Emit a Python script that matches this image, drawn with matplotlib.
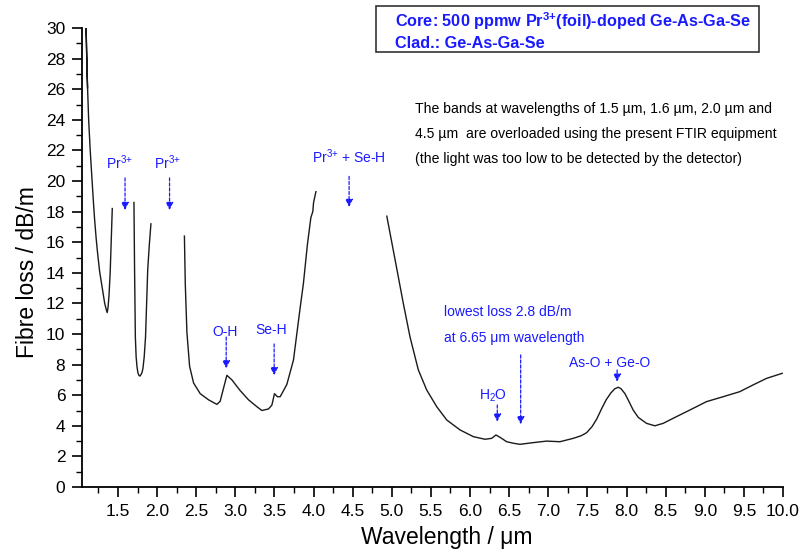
import matplotlib
matplotlib.use("Agg")
import matplotlib.pyplot as plt
from matplotlib.ticker import MultipleLocator
from matplotlib.patches import Rectangle

plt.rcParams['font.family'] = ['Liberation Sans', 'DejaVu Sans']
plt.rcParams['mathtext.fontset'] = 'custom'
plt.rcParams['mathtext.rm'] = 'Liberation Sans'
plt.rcParams['mathtext.it'] = 'Liberation Sans:italic'
plt.rcParams['mathtext.bf'] = 'Liberation Sans:bold'
plt.rcParams['mathtext.default'] = 'regular'

# ---- data: measured fibre loss (gaps = overloaded bands) ----
seg1_x = [1.111, 1.092, 1.105, 1.125, 1.145, 1.168, 1.185, 1.201, 1.220, 1.239,
          1.265, 1.296, 1.330, 1.350, 1.362, 1.372, 1.385, 1.400, 1.413, 1.427]
seg1_y = [26.1, 30.0, 27.0, 24.0, 22.0, 20.1, 18.7, 17.5, 16.3, 15.3,
          14.1, 13.1, 12.0, 11.6, 11.4, 11.7, 12.5, 14.0, 16.0, 18.2]

seg2_x = [1.704, 1.712, 1.722, 1.732, 1.743, 1.755, 1.770, 1.780, 1.795, 1.808,
          1.819, 1.835, 1.852, 1.866, 1.880, 1.900, 1.921]
seg2_y = [18.6, 14.2, 9.8, 8.5, 7.86, 7.45, 7.28, 7.25, 7.35, 7.5,
          7.75, 8.5, 9.8, 12.0, 14.2, 15.8, 17.2]

seg3_x = [2.349, 2.360, 2.381, 2.415, 2.466, 2.551, 2.657, 2.764, 2.806, 2.841,
          2.892, 2.956, 3.062, 3.168, 3.275, 3.339, 3.423, 3.467, 3.500, 3.538,
          3.573, 3.658, 3.743, 3.828, 3.870, 3.920, 3.965, 3.990, 4.000, 4.030]
seg3_y = [16.4, 13.3, 10.1, 7.9, 6.8, 6.1, 5.7, 5.4, 5.6, 6.3,
          7.3, 7.0, 6.3, 5.7, 5.25, 5.0, 5.1, 5.35, 6.1, 5.9,
          5.9, 6.7, 8.3, 11.7, 13.3, 15.8, 17.6, 18.0, 18.6, 19.3]

seg4_x = [4.936, 5.040, 5.147, 5.233, 5.339, 5.446, 5.574, 5.702, 5.872,
          6.042, 6.191, 6.276, 6.331, 6.382, 6.468, 6.553, 6.638, 6.808, 6.979,
          7.149, 7.319, 7.420, 7.490, 7.560, 7.620, 7.680, 7.740, 7.800, 7.850,
          7.894, 7.930, 7.980, 8.030, 8.085, 8.150, 8.256, 8.362,
          8.468, 8.639, 8.809, 9.022, 9.234, 9.447, 9.617, 9.790, 9.990]
seg4_y = [17.7, 14.9, 12.0, 9.8, 7.65, 6.34, 5.25, 4.38, 3.73,
          3.29, 3.12, 3.18, 3.4, 3.25, 2.96, 2.86, 2.79, 2.9, 3.0,
          2.96, 3.18, 3.35, 3.55, 3.95, 4.45, 5.1, 5.7, 6.15, 6.42,
          6.52, 6.42, 6.1, 5.6, 5.03, 4.55, 4.16, 4.0,
          4.16, 4.6, 5.03, 5.58, 5.9, 6.23, 6.67, 7.1, 7.43]

segments = [(seg1_x, seg1_y), (seg2_x, seg2_y), (seg3_x, seg3_y), (seg4_x, seg4_y)]

# ---- annotations ----
ann_labels = ["Pr$^{3{+}}$", "Pr$^{3{+}}$", "Pr$^{3{+}}$ + Se-H", "O-H", "Se-H", "H$_2$O", "As-O + Ge-O"]
ann_label_x = [1.519, 2.132, 4.445, 2.867, 3.455, 6.297, 7.790]
ann_label_y = [20.76, 20.76, 21.16, 9.87, 9.98, 5.73, 7.82]
ann_arrow_x = [1.590, 2.159, 4.454, 2.883, 3.496, 6.348, 7.880]
ann_arrow_top = [20.2, 20.2, 20.3, 9.8, 9.35, 5.36, 7.65]
ann_arrow_tip = [18.1, 18.1, 18.3, 7.75, 7.3, 4.27, 6.88]

low_lines = ["lowest loss 2.8 dB/m", "at 6.65 \u03bcm wavelength"]
low_x = 5.671
low_y = [11.18, 9.5]
low_arrow = (6.647, 8.63, 4.1)

note_lines = ["The bands at wavelengths of 1.5 \u00b5m, 1.6 \u00b5m, 2.0 \u00b5m and",
              "4.5 \u00b5m  are overloaded using the present FTIR equipment",
              "(the light was too low to be detected by the detector)"]
note_x = 5.297
note_y = [24.46, 22.83, 21.16]

box_lines = ["Core: 500 ppmw Pr$^{3{+}}$(foil)-doped Ge-As-Ga-Se", "Clad.: Ge-As-Ga-Se"]

BLUE = '#1a1aff'

fig = plt.figure(figsize=(8.01, 5.51), dpi=100)
ax = fig.add_axes([82 / 801, 1 - 487 / 551, 701 / 801, 459 / 551])

for sx, sy in segments:
    ax.plot(sx, sy, color='#1a1a1a', lw=1.0)

ax.set_xlim(1.04, 10.0)
ax.set_ylim(0, 30)
ax.xaxis.set_major_locator(MultipleLocator(0.5))
ax.xaxis.set_minor_locator(MultipleLocator(0.25))
ax.yaxis.set_major_locator(MultipleLocator(2))
ax.yaxis.set_minor_locator(MultipleLocator(1))
ax.xaxis.set_major_formatter(plt.FuncFormatter(lambda v, p: f"{v:.1f}"))
ax.spines['top'].set_visible(False)
ax.spines['right'].set_visible(False)
for s in ('left', 'bottom'):
    ax.spines[s].set_linewidth(1.3)
ax.tick_params(which='major', direction='out', length=7, width=1.2, labelsize=12.5, pad=5)
ax.tick_params(which='minor', direction='out', length=4, width=1.0)

ax.set_xlabel("Wavelength / \u03bcm", fontsize=16.5)
ax.set_ylabel("Fibre loss / dB/m", fontsize=16.5)
ax.xaxis.set_label_coords(0.52, -0.084)
ax.yaxis.set_label_coords(-0.062, 0.468)

arrowprops = dict(arrowstyle='-|>,head_length=0.45,head_width=0.22',
                  color=BLUE, lw=0.9, linestyle=(0, (2.5, 1.5)), shrinkA=0, shrinkB=0)
for lab, lx, ly, axx, at, tip in zip(ann_labels, ann_label_x, ann_label_y,
                                     ann_arrow_x, ann_arrow_top, ann_arrow_tip):
    ax.text(lx, ly, lab, color=BLUE, fontsize=10, ha='center', va='baseline')
    ax.annotate('', xy=(axx, tip), xytext=(axx, at), arrowprops=arrowprops)

for line, y in zip(low_lines, low_y):
    ax.text(low_x, y, line, color=BLUE, fontsize=10, ha='left', va='baseline')
ax.annotate('', xy=(low_arrow[0], low_arrow[2]), xytext=(low_arrow[0], low_arrow[1]),
            arrowprops=arrowprops)

for line, y in zip(note_lines, note_y):
    ax.text(note_x, y, line, color='black', fontsize=10.1, ha='left', va='baseline')

fig.patches.append(Rectangle((376 / 801, 1 - 52 / 551), 383 / 801, 46 / 551,
                             transform=fig.transFigure, fill=False,
                             edgecolor='#333333', lw=1.2))
fig.text(395 / 801, 1 - 27.3 / 551, box_lines[0], color=BLUE, fontsize=11.7,
         fontweight='bold', ha='left', va='baseline')
fig.text(395 / 801, 1 - 48.3 / 551, box_lines[1], color=BLUE, fontsize=11.7,
         fontweight='bold', ha='left', va='baseline')

fig.savefig('out.png', dpi=100)
